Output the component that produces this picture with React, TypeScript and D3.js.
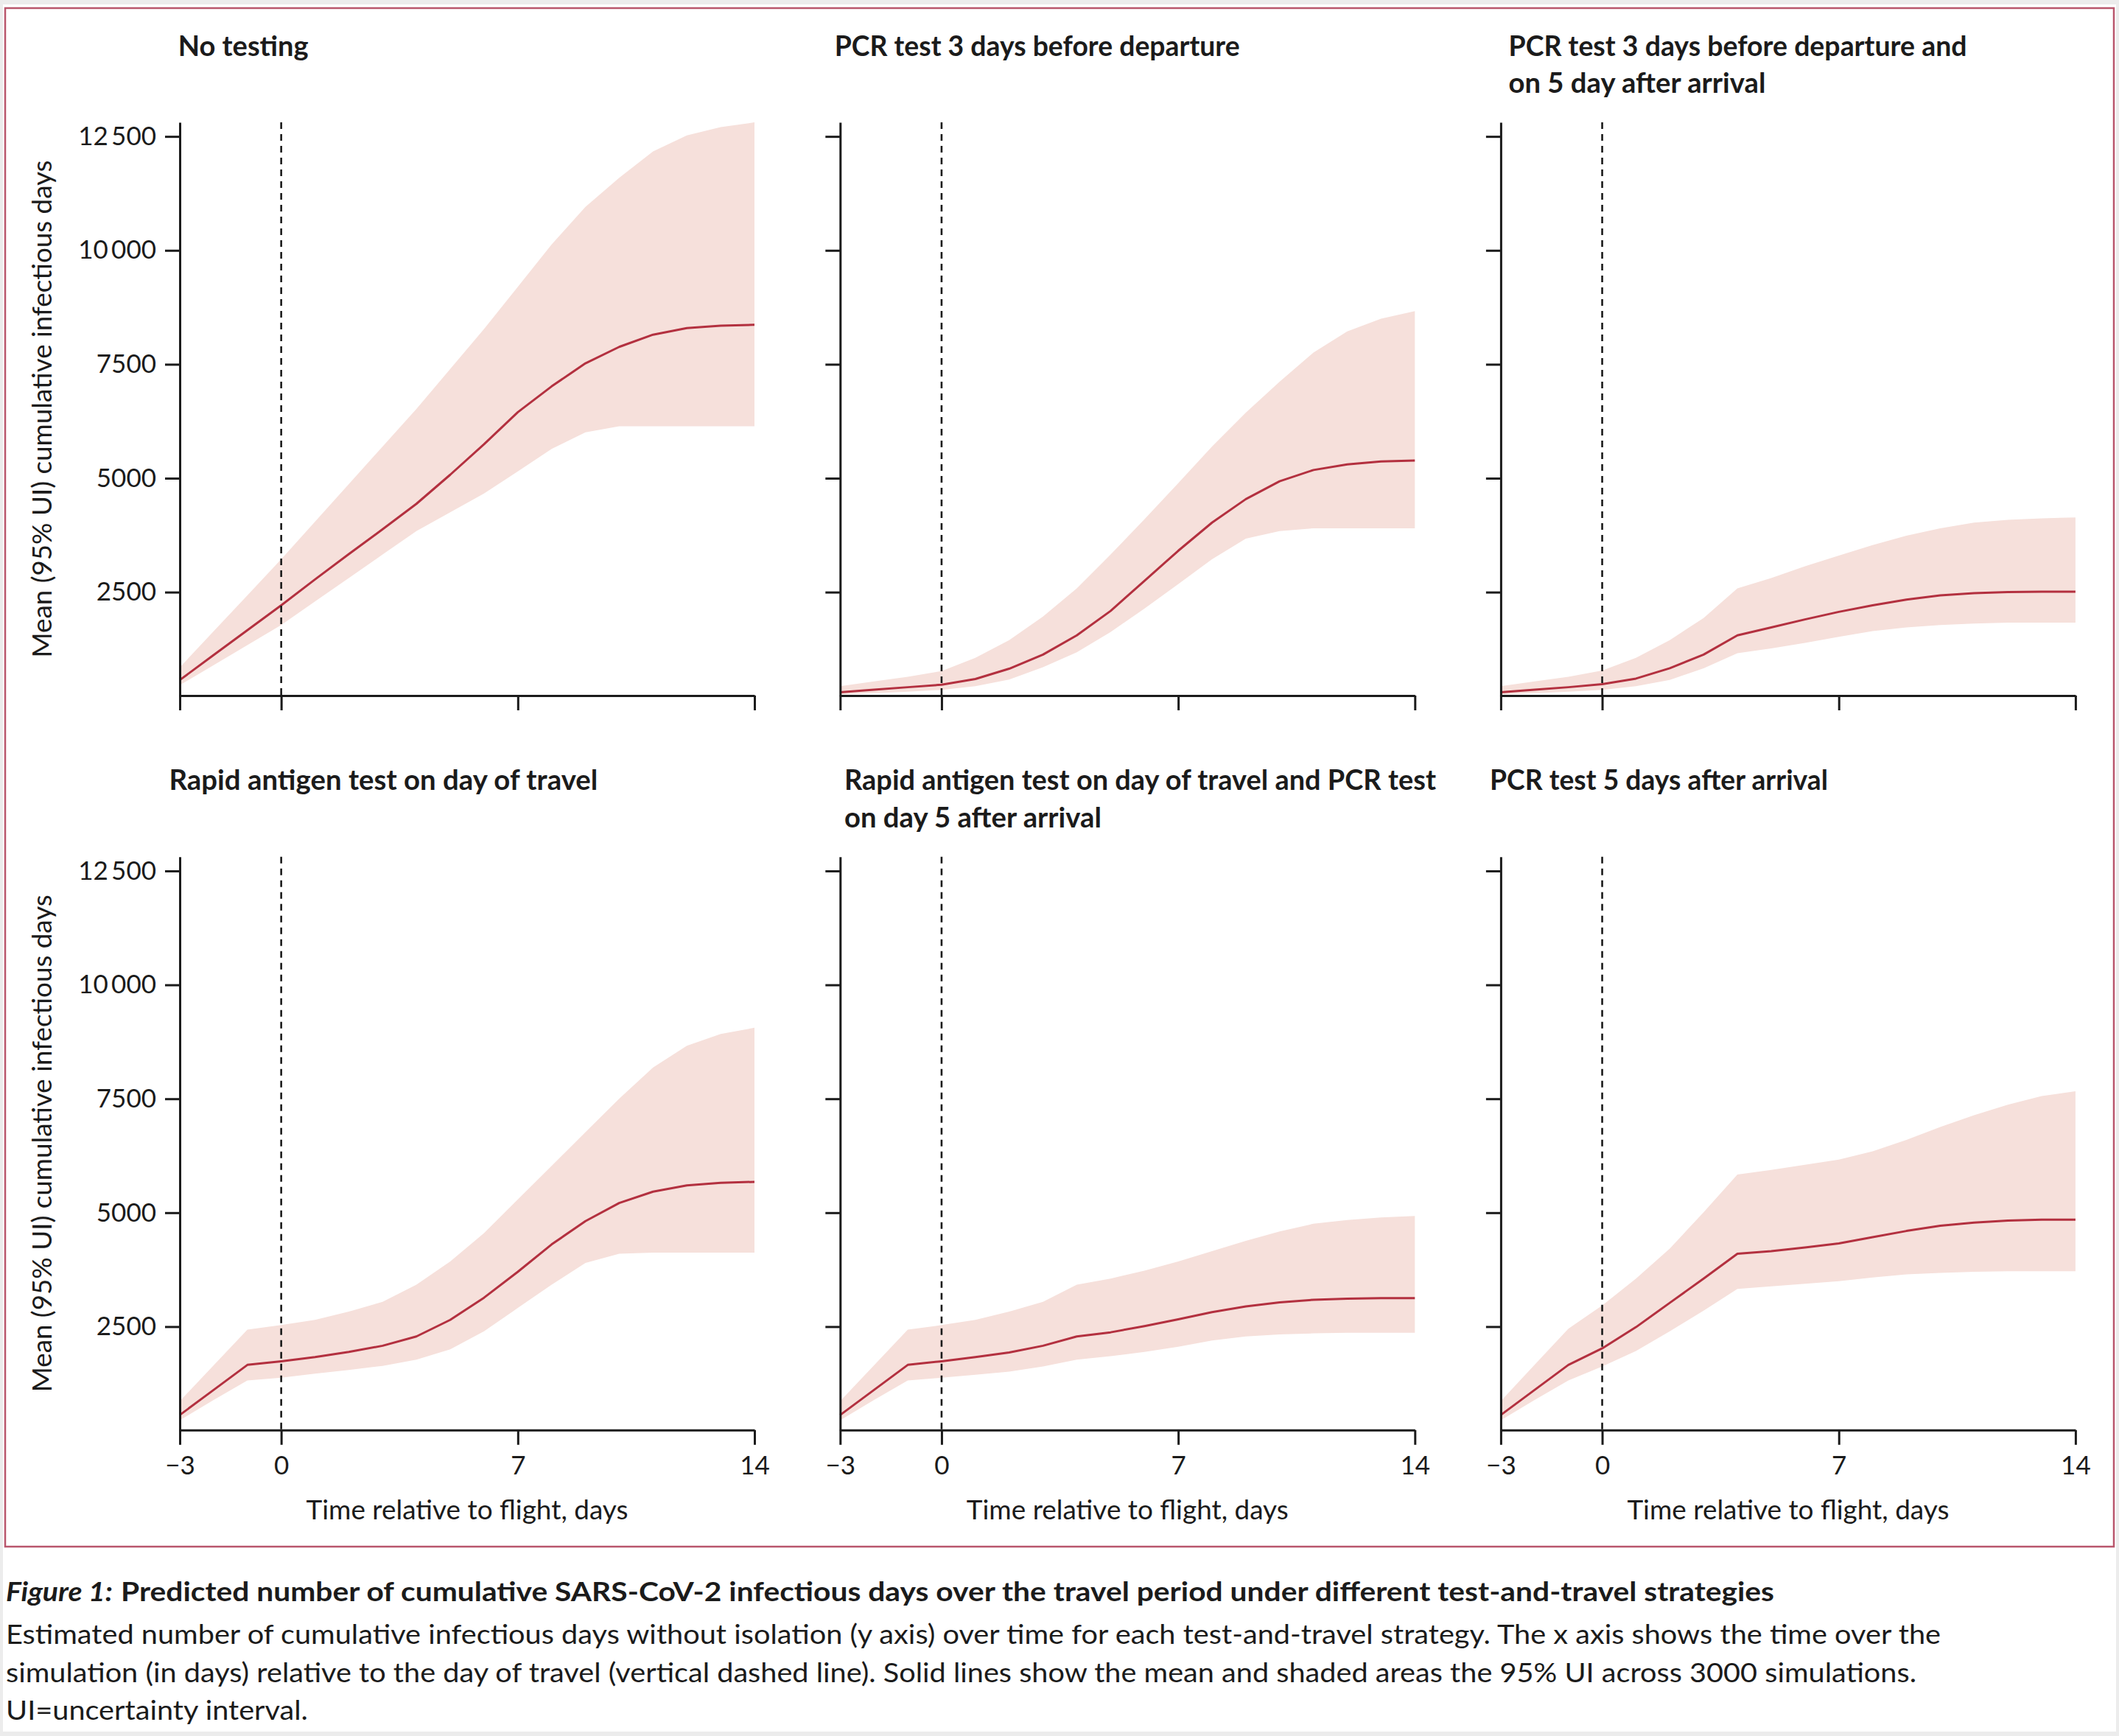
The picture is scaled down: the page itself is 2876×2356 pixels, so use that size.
import React, { useEffect, useRef } from "react";
import * as d3 from "d3";

// days relative to the flight, one value per day
const days = [-3, -2, -1, 0, 1, 2, 3, 4, 5, 6, 7, 8, 9, 10, 11, 12, 13, 14];

const xTicks = [-3, 0, 7, 14];
const xTickLabels = ["\u22123", "0", "7", "14"];
const yTicks = [2500, 5000, 7500, 10000, 12500];
const yTickLabels = ["2500", "5000", "7500", "10\u2009000", "12\u2009500"];

const panelTitles = [
  ["No testing"],
  ["PCR test 3 days before departure"],
  ["PCR test 3 days before departure and", "on 5 day after arrival"],
  ["Rapid antigen test on day of travel"],
  ["Rapid antigen test on day of travel and PCR test", "on day 5 after arrival"],
  ["PCR test 5 days after arrival"],
];

// No testing
const noTestMean = [572, 1118, 1665, 2211, 2778, 3335, 3881, 4438, 5077, 5747, 6449, 7016, 7521, 7882, 8150, 8295, 8347, 8366];
const noTestLow = [459, 899, 1338, 1778, 2294, 2809, 3325, 3840, 4253, 4665, 5150, 5644, 6005, 6140, 6140, 6140, 6140, 6140];
const noTestHigh = [850, 1640, 2431, 3222, 4046, 4871, 5696, 6521, 7397, 8273, 9201, 10129, 10954, 11593, 12170, 12521, 12706, 12809];

// PCR test 3 days before departure
const pcrBeforeMean = [304, 359, 414, 469, 593, 820, 1129, 1552, 2088, 2747, 3407, 4026, 4541, 4933, 5180, 5304, 5366, 5387];
const pcrBeforeLow = [253, 284, 315, 356, 438, 583, 851, 1180, 1624, 2139, 2675, 3222, 3675, 3840, 3902, 3902, 3902, 3902];
const pcrBeforeHigh = [438, 541, 644, 768, 1057, 1448, 1964, 2582, 3325, 4098, 4892, 5696, 6438, 7118, 7758, 8222, 8500, 8665];

// PCR test 3 days before departure and on day 5 after arrival
const pcrBothMean = [304, 359, 414, 479, 603, 830, 1129, 1552, 1727, 1902, 2067, 2211, 2335, 2428, 2479, 2500, 2510, 2510];
const pcrBothLow = [253, 284, 315, 356, 438, 572, 830, 1160, 1263, 1387, 1521, 1644, 1727, 1778, 1809, 1830, 1830, 1830];
const pcrBothHigh = [438, 541, 644, 778, 1057, 1448, 1933, 2582, 2809, 3067, 3304, 3531, 3737, 3902, 4026, 4088, 4119, 4139];

// Rapid antigen test on day of travel
const rapidMean = [560, 1110, 1660, 1740, 1830, 1944, 2080, 2284, 2648, 3135, 3703, 4304, 4815, 5212, 5462, 5598, 5655, 5677];
const rapidLow = [446, 889, 1320, 1377, 1467, 1547, 1638, 1774, 2001, 2398, 2909, 3419, 3896, 4100, 4123, 4123, 4123, 4123];
const rapidHigh = [866, 1649, 2432, 2534, 2648, 2829, 3045, 3419, 3930, 4554, 5292, 6029, 6767, 7504, 8185, 8662, 8923, 9059];

// Rapid antigen test on day of travel and PCR test on day 5
const rapidPcrMean = [560, 1110, 1660, 1740, 1830, 1933, 2080, 2284, 2375, 2511, 2659, 2818, 2943, 3033, 3090, 3113, 3124, 3124];
const rapidPcrLow = [446, 889, 1320, 1377, 1445, 1513, 1626, 1774, 1853, 1944, 2057, 2194, 2284, 2330, 2352, 2364, 2364, 2364];
const rapidPcrHigh = [866, 1649, 2432, 2534, 2648, 2829, 3045, 3419, 3555, 3726, 3930, 4157, 4384, 4588, 4758, 4838, 4894, 4928];

// PCR test 5 days after arrival
const pcrAfterMean = [560, 1110, 1660, 2023, 2489, 3022, 3555, 4100, 4157, 4236, 4327, 4463, 4599, 4713, 4781, 4826, 4849, 4849];
const pcrAfterLow = [446, 889, 1320, 1626, 1967, 2398, 2852, 3328, 3385, 3442, 3499, 3578, 3646, 3680, 3703, 3714, 3714, 3714];
const pcrAfterHigh = [866, 1660, 2455, 2965, 3555, 4214, 5008, 5836, 5938, 6052, 6165, 6347, 6597, 6880, 7141, 7368, 7561, 7663];

const captionTitle = "Predicted number of cumulative SARS-CoV-2 infectious days over the travel period under different test-and-travel strategies";
const captionLines = [
  "Estimated number of cumulative infectious days without isolation (y axis) over time for each test-and-travel strategy. The x axis shows the time over the",
  "simulation (in days) relative to the day of travel (vertical dashed line). Solid lines show the mean and shaded areas the 95% UI across 3000 simulations.",
  "UI=uncertainty interval.",
];

type Point = { day: number; mean: number; low: number; high: number };

const toPoints = (mean: number[], low: number[], high: number[]): Point[] =>
  days.map((day, i) => ({ day, mean: mean[i], low: low[i], high: high[i] }));

const panels = [
  toPoints(noTestMean, noTestLow, noTestHigh),
  toPoints(pcrBeforeMean, pcrBeforeLow, pcrBeforeHigh),
  toPoints(pcrBothMean, pcrBothLow, pcrBothHigh),
  toPoints(rapidMean, rapidLow, rapidHigh),
  toPoints(rapidPcrMean, rapidPcrLow, rapidPcrHigh),
  toPoints(pcrAfterMean, pcrAfterLow, pcrAfterHigh),
];

// layout
const WIDTH = 2876;
const HEIGHT = 2356;
const colLeft = [244, 1140.3, 2036.9];
const rowTop = [166, 1162.8];
const plotW = 780;
const plotH = 778;
const titleX = [241.7, 1132.7, 2047.5, 229.4, 1146, 2022];
const titleWidths = [[177], [550], [622, 349], [582], [803, 349], [459]];
const titleBaseline = [75.5, 1072.2];

const FONT = "Lato, 'Open Sans', sans-serif";
const INK = "#1b1b1b";
const LINE_RED = "#b3303f";
const BAND_PINK = "#f6e0db";
const BORDER = "#b9566c";

const App = () => {
  const svgRef = useRef<SVGSVGElement>(null);

  useEffect(() => {
    const svg = d3.select(svgRef.current);
    svg.selectAll("*").remove();

    svg.append("rect").attr("width", WIDTH).attr("height", HEIGHT).attr("fill", "#ececec");
    svg.append("rect").attr("x", 4).attr("y", 6).attr("width", WIDTH - 8).attr("height", HEIGHT - 12).attr("fill", "#fff");
    svg
      .append("rect")
      .attr("x", 7)
      .attr("y", 11)
      .attr("width", 2862)
      .attr("height", 2088)
      .attr("fill", "none")
      .attr("stroke", BORDER)
      .attr("stroke-width", 2.5);

    const x = d3.scaleLinear().domain([-3, 14]).range([0, plotW]);
    const y = d3.scaleLinear().domain([230, 12810]).range([plotH, 0]);

    const band = d3
      .area<Point>()
      .x((d) => x(d.day))
      .y0((d) => y(d.low))
      .y1((d) => y(d.high));

    const meanLine = d3
      .line<Point>()
      .x((d) => x(d.day))
      .y((d) => y(d.mean));

    panels.forEach((pts, idx) => {
      const col = idx % 3;
      const row = Math.floor(idx / 3);
      const g = svg.append("g").attr("transform", `translate(${colLeft[col]},${rowTop[row]})`);

      g.append("path").attr("d", band(pts)).attr("fill", BAND_PINK);
      g.append("path")
        .attr("d", meanLine(pts))
        .attr("fill", "none")
        .attr("stroke", LINE_RED)
        .attr("stroke-width", 3)
        .attr("stroke-linejoin", "round");

      g.append("line")
        .attr("x1", x(0))
        .attr("x2", x(0))
        .attr("y1", 0)
        .attr("y2", plotH)
        .attr("stroke", INK)
        .attr("stroke-width", 2.6)
        .attr("stroke-dasharray", "9 7");

      const yAxis = d3
        .axisLeft(y)
        .tickValues(yTicks)
        .tickSize(20)
        .tickSizeOuter(0)
        .tickPadding(12)
        .tickFormat((_, i) => (col === 0 ? yTickLabels[i] : ""));

      const xAxis = d3
        .axisBottom(x)
        .tickValues(xTicks)
        .tickSize(20)
        .tickSizeOuter(0)
        .tickPadding(15)
        .tickFormat((_, i) => (row === 1 ? xTickLabels[i] : ""));

      const ya = g.append("g").call(yAxis);
      const xa = g.append("g").attr("transform", `translate(0,${plotH})`).call(xAxis);

      [ya, xa].forEach((a) => {
        a.attr("font-family", FONT).attr("font-size", 35).attr("color", INK);
        a.selectAll("path, line").attr("stroke-width", 3);
        a.selectAll("text").attr("fill", INK);
      });

      // panel title
      panelTitles[idx].forEach((t, li) => {
        svg
          .append("text")
          .attr("x", titleX[idx])
          .attr("y", titleBaseline[row] + li * 50.8)
          .attr("font-family", FONT)
          .attr("font-weight", 700)
          .attr("font-size", 38)
          .attr("fill", INK)
          .attr("textLength", titleWidths[idx][li])
          .attr("lengthAdjust", "spacingAndGlyphs")
          .text(t);
      });

      if (col === 0) {
        const cy = rowTop[row] + plotH / 2;
        svg
          .append("text")
          .attr("transform", `translate(70,${cy}) rotate(-90)`)
          .attr("text-anchor", "middle")
          .attr("font-family", FONT)
          .attr("font-size", 36)
          .attr("fill", INK)
          .attr("textLength", 675)
          .attr("lengthAdjust", "spacingAndGlyphs")
          .text("Mean (95% UI) cumulative infectious days");
      }

      if (row === 1) {
        svg
          .append("text")
          .attr("x", colLeft[col] + plotW / 2)
          .attr("y", 2061.7)
          .attr("text-anchor", "middle")
          .attr("font-family", FONT)
          .attr("font-size", 36)
          .attr("fill", INK)
          .attr("textLength", 437)
          .attr("lengthAdjust", "spacingAndGlyphs")
          .text("Time relative to flight, days");
      }
    });

    // caption
    svg
      .append("text")
      .attr("x", 8)
      .attr("y", 2172.5)
      .attr("font-family", FONT)
      .attr("font-size", 36)
      .attr("font-weight", 700)
      .attr("font-style", "italic")
      .attr("fill", INK)
      .attr("textLength", 145)
      .attr("lengthAdjust", "spacingAndGlyphs")
      .text("Figure 1:");
    svg
      .append("text")
      .attr("x", 164)
      .attr("y", 2172.5)
      .attr("font-family", FONT)
      .attr("font-size", 36)
      .attr("font-weight", 700)
      .attr("fill", INK)
      .attr("textLength", 2244)
      .attr("lengthAdjust", "spacingAndGlyphs")
      .text(captionTitle);

    const lineWidths = [2626, 2593, 410];
    const lineY = [2231, 2283, 2334];
    captionLines.forEach((t, i) => {
      svg
        .append("text")
        .attr("x", 8)
        .attr("y", lineY[i])
        .attr("font-family", FONT)
        .attr("font-size", 36)
        .attr("fill", INK)
        .attr("textLength", lineWidths[i])
        .attr("lengthAdjust", "spacingAndGlyphs")
        .text(t);
    });
  }, []);

  return (
    <svg
      ref={svgRef}
      width={WIDTH}
      height={HEIGHT}
      style={{ position: "absolute", left: 0, top: 0, display: "block" }}
    />
  );
};

export default App;
